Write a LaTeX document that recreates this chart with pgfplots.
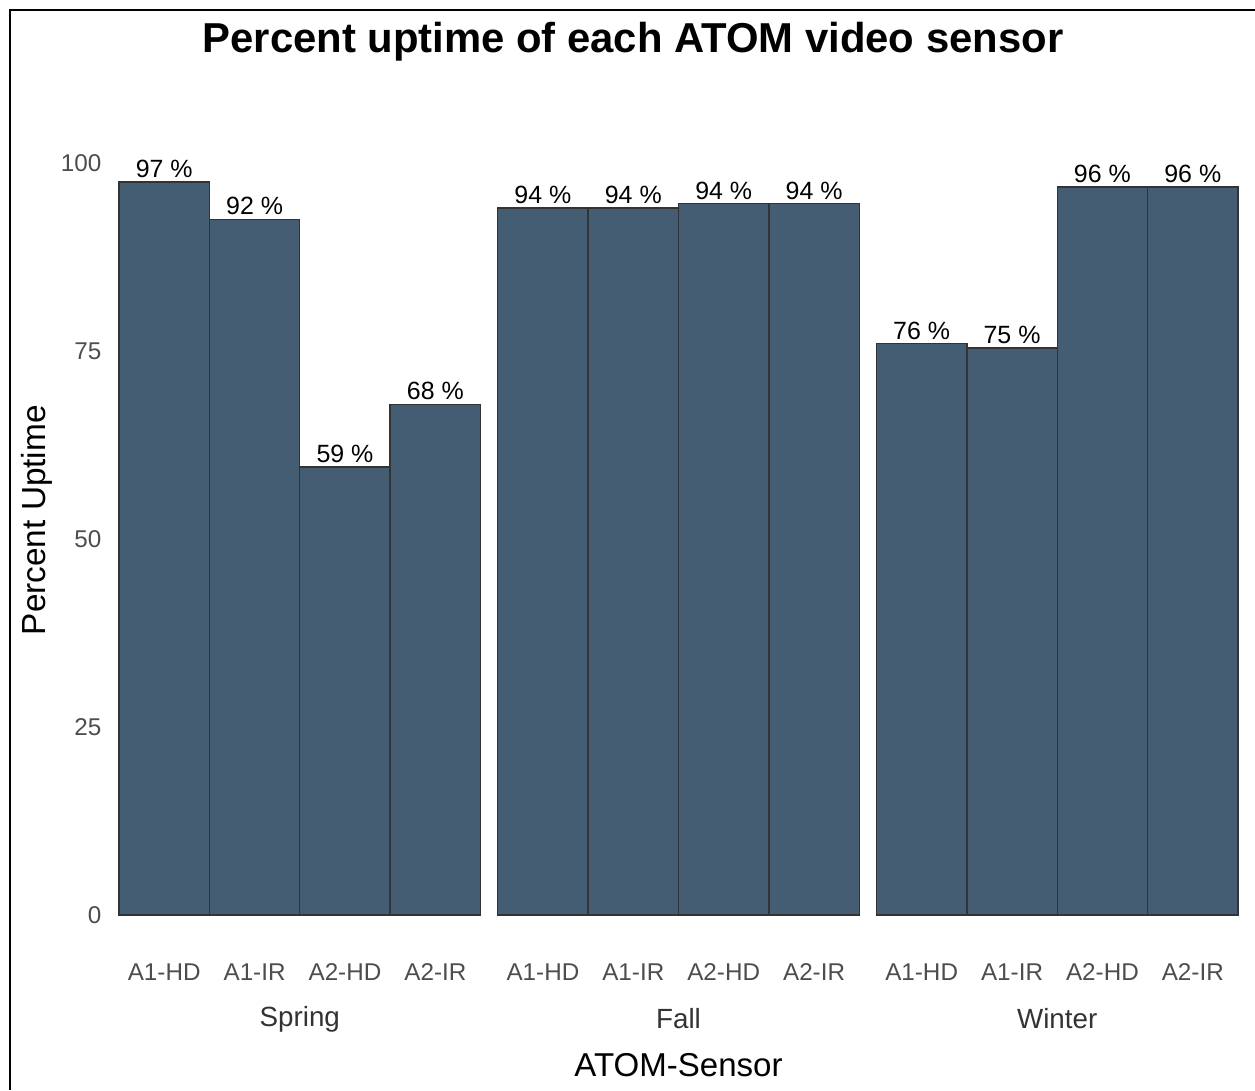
\documentclass[border=0pt]{standalone}
\usepackage{pgfplots}
\pgfplotsset{compat=1.18}
\usepackage{pgfplotstable}
\usepackage{fontspec}
\setmainfont{Liberation Sans}
\definecolor{barfill}{HTML}{455D73}
\definecolor{baredge}{HTML}{333333}
\definecolor{ticktext}{HTML}{4D4D4D}

% bar positions: 4 sensors per season, small gap between seasons
\pgfplotstableread{
x     y     lab
0     97.5  97
1     92.5  92
2     59.6  59
3     67.9  68
4.19  94.0  94
5.19  94.0  94
6.19  94.6  94
7.19  94.6  94
8.38  76.0  76
9.38  75.4  75
10.38 96.8  96
11.38 96.8  96
}\uptime

\begin{document}
\begin{tikzpicture}
\useasboundingbox (-11.9mm,-17.5mm) rectangle (113.6mm,91.5mm);
\draw[line width=0.8pt] (-10.9mm,-17.5mm) -- (-10.9mm,90.5mm) -- (113.6mm,90.5mm);
\node[anchor=base, font=\fontsize{11.9}{14}\selectfont\bfseries] at (51.4mm,86.3mm)
  {Percent uptime of each ATOM video sensor};
\begin{axis}[
    at={(0,0)}, anchor=south west,
    scale only axis,
    width=111.9mm, height=75.2mm,
    xmin=-0.5, xmax=11.88,
    ymin=0, ymax=100,
    clip=false,
    axis line style={draw=none},
    major tick length=0pt,
    tick style={draw=none},
    /pgf/number format/assume math mode=true,
    ytick={0,25,50,75,100},
    yticklabel style={font=\fontsize{6.9}{8}\selectfont, text=ticktext, inner sep=0pt, xshift=-1.7mm},
    xtick={0,1,2,3,4.19,5.19,6.19,7.19,8.38,9.38,10.38,11.38},
    xticklabels={A1-HD,A1-IR,A2-HD,A2-IR,A1-HD,A1-IR,A2-HD,A2-IR,A1-HD,A1-IR,A2-HD,A2-IR},
    xticklabel style={font=\fontsize{6.9}{8}\selectfont, text=ticktext, inner sep=0pt, anchor=center, yshift=-5.7mm},
    ybar, bar width=1,
    point meta=explicit symbolic,
    nodes near coords={\pgfplotspointmeta~\%},
    nodes near coords style={font=\fontsize{7.1}{8}\selectfont, text=black, inner sep=1pt, anchor=south},
]
\addplot[fill=barfill, draw=baredge, line width=0.4pt] table[x=x, y=y, meta=lab] {\uptime};

\node[font=\fontsize{7.9}{9}\selectfont, text=baredge] at (axis cs:1.5,0) [yshift=-10.4mm] {Spring};
\node[font=\fontsize{7.9}{9}\selectfont, text=baredge] at (axis cs:5.69,0) [yshift=-10.4mm] {Fall};
\node[font=\fontsize{7.9}{9}\selectfont, text=baredge] at (axis cs:9.88,0) [yshift=-10.4mm] {Winter};
\node[font=\fontsize{9.4}{11}\selectfont] at (axis cs:5.69,0) [yshift=-15mm] {ATOM-Sensor};
\node[font=\fontsize{9.5}{11}\selectfont, rotate=90] at (axis cs:-1.407,52.5) {Percent Uptime};
\end{axis}
\end{tikzpicture}
\end{document}
